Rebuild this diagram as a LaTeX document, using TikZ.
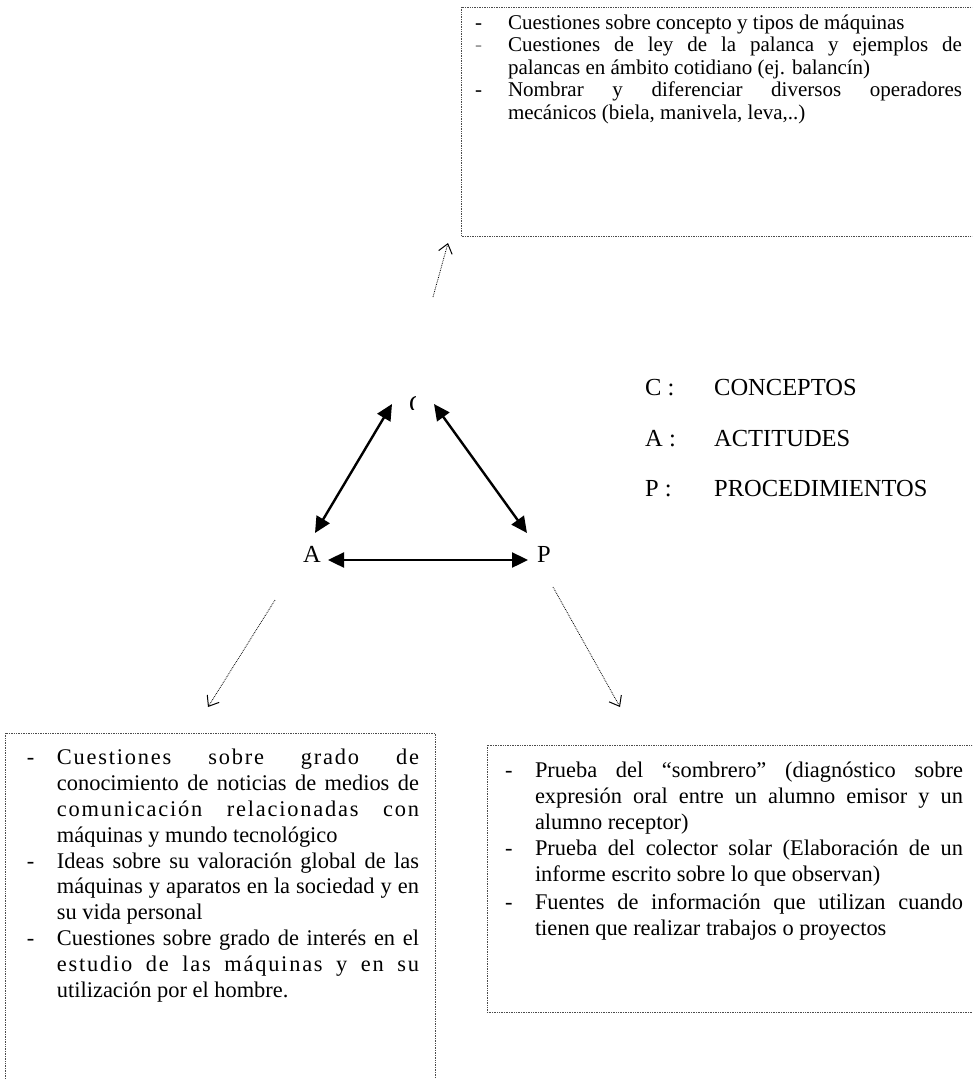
\documentclass[tikz,border=0pt]{standalone}
\usepackage{fontspec}
\setmainfont{Liberation Serif}
\usetikzlibrary{arrows.meta}
\newlength\hangamt
\newcommand{\bitem}[2][black]{\par\noindent\hangindent=\hangamt\hangafter=1 \strut\makebox[\hangamt][l]{\textcolor{#1}{-}}#2\par}
\newcommand{\ls}{\addfontfeature{LetterSpace=8}}
\begin{document}
\begin{tikzpicture}[x=1pt,y=-1pt,
  box/.style={draw=black!70, densely dotted, line width=0.7pt},
  txt/.style={anchor=north west, inner sep=0pt, outer sep=0pt, align=justify},
  bidir/.style={{Triangle[length=16pt,width=15pt]}-{Triangle[length=16pt,width=15pt]}, line width=2.4pt},
  dotarrow/.style={densely dotted, line width=0.8pt, -{Straight Barb[length=9pt,width=14pt,line width=1pt]}},
  lbl/.style={inner sep=0pt, anchor=base west, font=\fontsize{24.5}{28}\selectfont}]
\clip (0,0) rectangle (972,1079);
\fill[white] (0,0) rectangle (972,1079);

% boxes
\draw[box] (461,7) rectangle (990,236);
\draw[box] (5,733) rectangle (435,1095);
\draw[box] (487,745) rectangle (990,1012);

% top box text
\node[txt, text width=487pt] (ttext) at (475,7) {\fontsize{21}{22.4}\selectfont\setlength\hangamt{33pt}\tolerance=10000
\bitem{Cuestiones sobre concepto y tipos de máquinas}
\bitem[black!45]{Cuestiones de ley de la palanca y ejemplos de\linebreak palancas en ámbito cotidiano (ej. balancín)}
\bitem{Nombrar y diferenciar diversos operadores\linebreak mecánicos (biela, manivela, leva,..)}};

% bottom left text
\node[txt, text width=392pt] (ltext) at (27,739) {\fontsize{22.4}{25.8}\selectfont\setlength\hangamt{30pt}\tolerance=10000
\bitem{{\ls Cuestiones sobre grado de}\linebreak conocimiento de noticias de medios de\linebreak {\ls comunicación relacionadas con}\linebreak máquinas y mundo tecnológico}
\bitem{Ideas sobre su valoración global de las\linebreak máquinas y aparatos en la sociedad y en\linebreak su vida personal}
\bitem{Cuestiones sobre grado de interés en el\linebreak {\ls estudio de las máquinas y en su}\linebreak utilización por el hombre.}};

% bottom right text
\node[txt, text width=458pt] (rtext) at (505,751) {\fontsize{22.4}{26}\selectfont\setlength\hangamt{30pt}\tolerance=10000
\bitem{Prueba del “sombrero” (diagnóstico sobre\linebreak expresión oral entre un alumno emisor y un\linebreak alumno receptor)}
\bitem{Prueba del colector solar (Elaboración de un\linebreak informe escrito sobre lo que observan)}
\vspace{2pt}
\bitem{Fuentes de información que utilizan cuando\linebreak tienen que realizar trabajos o proyectos}};

% triangle letters
\node[lbl] (A) at (303,562) {A};
\node[lbl] (P) at (537,562) {P};
\begin{scope}
\clip (405,394) rectangle (415.5,409);
\node[lbl] (C) at (409,412) {C};
\end{scope}

% triangle arrows
\coordinate (ac1) at (315,533);
\coordinate (ac2) at (392,404);
\coordinate (cp1) at (434,404);
\coordinate (cp2) at (527,533);
\coordinate (ap1) at (328,560);
\coordinate (ap2) at (528,560);
\draw[bidir] (ac1) -- (ac2);
\draw[bidir] (cp1) -- (cp2);
\draw[bidir] (ap1) -- (ap2);

% dotted arrows
\coordinate (t1) at (433,297);
\coordinate (t2) at (448,243);
\coordinate (l1) at (275,600);
\coordinate (l2) at (208,707);
\coordinate (r1) at (553,587);
\coordinate (r2) at (620,707);
\draw[dotarrow] (t1) -- (t2);
\draw[dotarrow] (l1) -- (l2);
\draw[dotarrow] (r1) -- (r2);

% legend
\node[lbl] (lc) at (645,395) {C :};
\node[lbl] (lcw) at (714,395) {CONCEPTOS};
\node[lbl] (la) at (645,446) {A :};
\node[lbl] (law) at (714,446) {ACTITUDES};
\node[lbl] (lp) at (645,496) {P :};
\node[lbl] (lpw) at (714,496) {PROCEDIMIENTOS};
\end{tikzpicture}
\end{document}
